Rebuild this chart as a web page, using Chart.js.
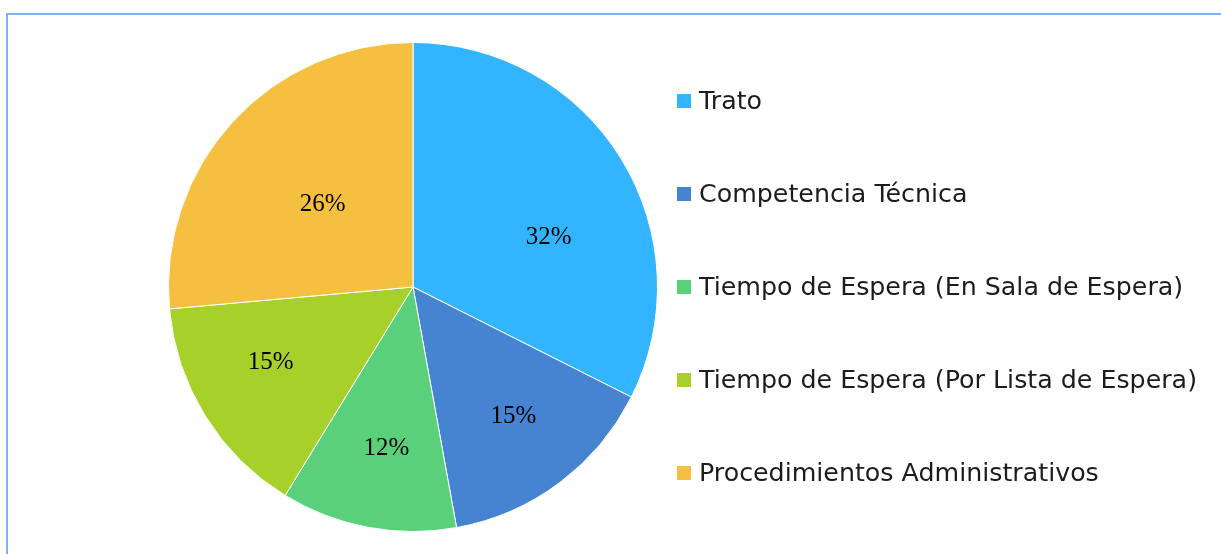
<!DOCTYPE html>
<html>
<head>
<meta charset="utf-8">
<script src="https://cdn.jsdelivr.net/npm/chart.js@4"></script>
<style>
  html, body { margin: 0; padding: 0; background: #fff; overflow: hidden; }
  #wrap { position: relative; width: 1221px; height: 554px; }
  #marco { position: absolute; left: 6px; top: 13px; width: 1400px; height: 700px;
           border-top: 2px solid #7eaef4; border-left: 2px solid #7eaef4; }
  #grafico { position: absolute; left: 0; top: 0; }
  #leyenda { position: absolute; left: 677px; top: 54px; margin: 0; padding: 0; list-style: none;
             font-family: "DejaVu Sans", sans-serif; font-size: 25.3px; color: #1c1c1c; }
  #leyenda li { height: 93px; display: flex; align-items: center; white-space: nowrap; }
  #leyenda span.cuadro { display: inline-block; width: 14px; height: 14px; margin-right: 8px; }
</style>
</head>
<body>
<div id="wrap">
  <div id="marco"></div>
  <canvas id="grafico" width="1221" height="554"></canvas>
  <ul id="leyenda"></ul>
</div>
<script>
// categorias y valores (porcentajes)
var categorias = [
  "Trato",
  "Competencia Técnica",
  "Tiempo de Espera (En Sala de Espera)",
  "Tiempo de Espera (Por Lista de Espera)",
  "Procedimientos Administrativos"
];
var valores = [32.4, 14.7, 11.6, 14.8, 26.4];
var etiquetas = ["32%", "15%", "12%", "15%", "26%"];
var colores = ["#33b4ff", "#4683d1", "#5bd07a", "#a7d12a", "#f5bf40"];

// posicion de las etiquetas dentro de cada porcion (fraccion del angulo y del radio)
var fracAngulo = [0.6, 0.48, 0.47, 0.57, 0.5];
var fracRadio = [0.59, 0.67, 0.67, 0.66, 0.5];

// plugin para escribir los porcentajes sobre el pastel
const etiquetasPlugin = {
  id: "etiquetasPastel",
  afterDatasetsDraw(chart) {
    const ctx = chart.ctx;
    const meta = chart.getDatasetMeta(0);
    ctx.save();
    ctx.font = "25px 'Liberation Serif', serif";
    ctx.fillStyle = "#000";
    ctx.textAlign = "center";
    ctx.textBaseline = "middle";
    meta.data.forEach((arc, i) => {
      const p = arc.getProps(["x", "y", "startAngle", "endAngle", "outerRadius"], true);
      const ang = p.startAngle + (p.endAngle - p.startAngle) * fracAngulo[i];
      const r = p.outerRadius * fracRadio[i];
      ctx.fillText(etiquetas[i], p.x + Math.cos(ang) * r, p.y + Math.sin(ang) * r);
    });
    ctx.restore();
  }
};

const ctx = document.getElementById("grafico");
const miGrafico = new Chart(ctx, {
  type: "pie",
  data: {
    labels: categorias,
    datasets: [{
      data: valores,
      backgroundColor: colores,
      borderColor: "#ffffff",
      borderWidth: 1
    }]
  },
  options: {
    responsive: false,
    animation: false,
    layout: { padding: { left: 168, right: 563, top: 42, bottom: 22 } },
    plugins: {
      legend: { display: false },
      tooltip: { enabled: false }
    }
  },
  plugins: [etiquetasPlugin]
});

// leyenda en html
var ul = document.getElementById("leyenda");
categorias.forEach((c, i) => {
  var li = document.createElement("li");
  var sq = document.createElement("span");
  sq.className = "cuadro";
  sq.style.background = colores[i];
  li.appendChild(sq);
  li.appendChild(document.createTextNode(c));
  ul.appendChild(li);
});
</script>
</body>
</html>
